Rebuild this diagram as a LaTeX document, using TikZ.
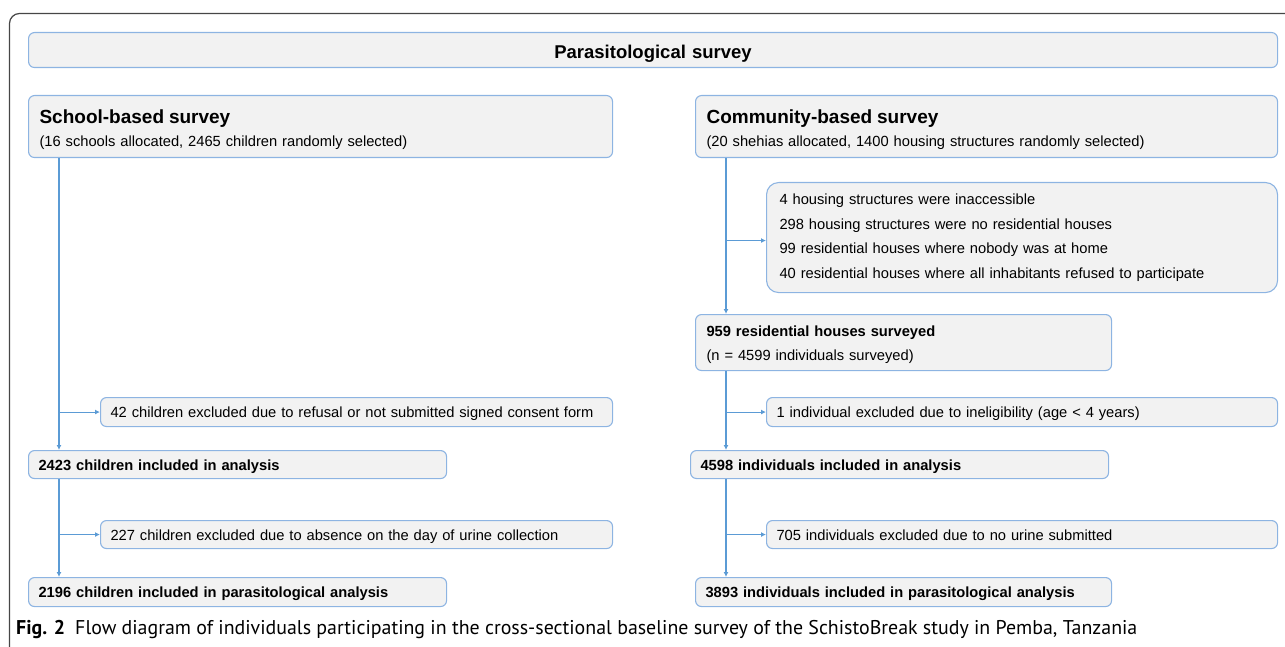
\documentclass[tikz,border=0pt]{standalone}
\usepackage{fontspec}
\setmainfont{Liberation Sans}
\newfontfamily\capfont{PT Sans}
\usetikzlibrary{arrows.meta, positioning}

\definecolor{boxline}{RGB}{141,180,226}
\definecolor{boxfill}{RGB}{242,242,242}
\definecolor{flowline}{RGB}{91,155,213}
\definecolor{framegray}{RGB}{70,70,70}

\tikzset{
  box/.style={draw=boxline, fill=boxfill, line width=1.1pt, rounded corners=6pt, anchor=north west,
    inner xsep=10pt, inner ysep=0pt, align=left, font=\fontsize{14.7}{24.5}\selectfont},
  single/.style={box, text height=12pt, text depth=1pt},
  headbox/.style={box, inner xsep=11pt, font=\fontsize{14.7}{23}\selectfont},
  flow/.style={draw=flowline, line width=1.1pt, -{Latex[length=5pt,width=5pt]}},
  panel/.style={draw=framegray, line width=1.2pt, rounded corners=10pt}
}
\newcommand{\headline}[1]{{\fontsize{19}{23}\selectfont\bfseries\rule{0pt}{20pt}#1}}

\begin{document}
\begin{tikzpicture}[x=1pt, y=-1pt]
\useasboundingbox (0,0) rectangle (1285,647);
\draw[panel] (9.5,647) |- (1285,13.5);

\node[box, align=center, text width=1229pt, minimum height=35pt, text height=16pt, text depth=0pt, font=\fontsize{18.5}{22}\selectfont\bfseries] (survey) at (28,32) {Parasitological survey};

\node[headbox, text width=562pt, minimum height=62pt] (school) at (28,95) {\headline{School-based survey}\\(16 schools allocated, 2465 children randomly selected)};
\node[single, text width=492pt, minimum height=29pt] (consent) at (100,397) {42 children excluded due to refusal or not submitted signed consent form};
\node[single, text width=398pt, minimum height=28pt] (children) at (28,450) {\textbf{2423 children included in analysis}};
\node[single, text width=492pt, minimum height=28pt] (absent) at (100,520) {227 children excluded due to absence on the day of urine collection};
\node[single, text width=398pt, minimum height=29pt] (parasL) at (28,577) {\textbf{2196 children included in parasitological analysis}};

\node[headbox, text width=560pt, minimum height=62pt] (community) at (695,95) {\headline{Community-based survey}\\(20 shehias allocated, 1400 housing structures randomly selected)};
\node[box, rounded corners=12pt, inner xsep=13pt, text width=485pt, minimum height=110pt] (houses) at (766,182) {4 housing structures were inaccessible\\298 housing structures were no residential houses\\99 residential houses where nobody was at home\\40 residential houses where all inhabitants refused to participate};
\node[box, inner xsep=11pt, text width=394pt, minimum height=56pt] (surveyed) at (695,314) {\textbf{\rule{0pt}{15pt}959 residential houses surveyed}\\(n = 4599 individuals surveyed)};
\node[single, text width=491pt, minimum height=29pt] (inelig) at (766,397) {1 individual excluded due to ineligibility (age < 4 years)};
\node[single, text width=398pt, minimum height=28pt] (indiv) at (690,450) {\textbf{4598 individuals included in analysis}};
\node[single, text width=491pt, minimum height=28pt] (nourine) at (766,520) {705 individuals excluded due to no urine submitted};
\node[single, text width=396pt, minimum height=29pt] (parasR) at (695,577) {\textbf{3893 individuals included in parasitological analysis}};

\coordinate (colL) at (59,0);
\coordinate (colR) at (726,0);
\draw[flow] (colL |- school.south) -- (colL |- children.north);
\draw[flow] (colL |- consent.west) -- (consent.west);
\draw[flow] (colL |- children.south) -- (colL |- parasL.north);
\draw[flow] (colL |- absent.west) -- (absent.west);
\draw[flow] (colR |- community.south) -- (colR |- surveyed.north);
\draw[flow] ([yshift=-3pt]colR |- houses.west) -- ([yshift=-3pt]houses.west);
\draw[flow] (colR |- surveyed.south) -- (colR |- indiv.north);
\draw[flow] (colR |- inelig.west) -- (inelig.west);
\draw[flow] (colR |- indiv.south) -- (colR |- parasR.north);
\draw[flow] (colR |- nourine.west) -- (nourine.west);

\node[anchor=base west, inner sep=0pt] (caption) at (16,634) {\capfont\fontsize{19.9}{24}\selectfont\textbf{Fig. 2}\hspace{10pt}Flow diagram of individuals participating in the cross-sectional baseline survey of the SchistoBreak study in Pemba, Tanzania};
\end{tikzpicture}
\end{document}
